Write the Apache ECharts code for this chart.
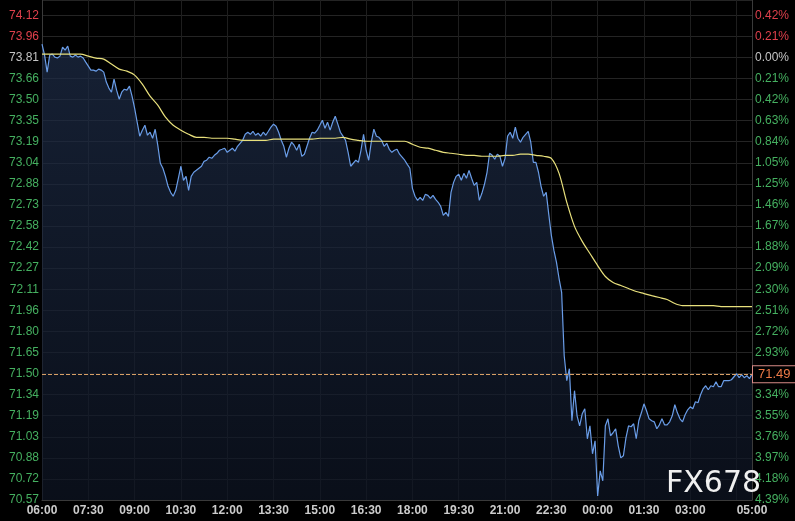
<!DOCTYPE html>
<html>
<head>
<meta charset="utf-8">
<script src="https://cdn.jsdelivr.net/npm/echarts@6/dist/echarts.min.js"></script>
<style>html,body{margin:0;padding:0;background:#000;}#c{width:795px;height:521px;}</style>
</head>
<body>
<div id="c"></div>
<script>
// ---- data ----
const baseClose = 73.81;
const lastPrice = 71.49;
const priceStepMin = 5;   // minutes between price samples (from 06:00)
const avgStepMin = 15;    // minutes between average-line samples
const priceValues = [
73.907,73.827,73.702,73.827,73.834,73.812,73.805,73.819,73.885,73.863,
73.893,73.819,73.812,73.827,73.812,73.819,73.805,73.775,73.746,73.717,
73.717,73.709,73.724,73.717,73.702,73.629,73.585,73.555,73.651,73.570,
73.504,73.555,73.577,73.570,73.599,73.526,73.438,73.335,73.233,73.277,
73.313,73.240,73.262,73.218,73.284,73.167,73.035,72.998,72.939,72.866,
72.822,72.793,72.837,72.925,73.013,72.910,72.939,72.837,72.939,72.969,
72.983,72.998,73.013,73.049,73.057,73.079,73.071,73.093,73.108,73.130,
73.137,73.145,73.115,73.130,73.145,73.123,73.159,73.181,73.203,73.247,
73.262,73.247,73.269,73.240,73.255,73.233,73.262,73.240,73.269,73.299,
73.321,73.306,73.262,73.203,73.159,73.079,73.145,73.189,73.167,73.130,
73.174,73.086,73.101,73.159,73.218,73.262,73.255,73.277,73.313,73.350,
73.291,73.335,73.277,73.335,73.379,73.321,73.262,73.233,73.203,73.115,
73.013,73.035,73.057,73.042,73.130,73.247,73.130,73.057,73.189,73.284,
73.233,73.225,73.203,73.159,73.181,73.137,73.115,73.130,73.137,73.101,
73.079,73.057,73.027,72.998,72.851,72.793,72.763,72.785,72.763,72.807,
72.800,72.778,72.800,72.771,72.749,72.719,72.653,72.675,72.646,72.822,
72.895,72.939,72.954,72.910,72.961,72.925,72.983,72.925,72.873,72.895,
72.763,72.815,72.881,72.969,73.108,73.093,73.064,73.101,73.086,73.013,
73.071,73.233,73.262,73.218,73.299,73.218,73.189,73.225,73.247,73.269,
73.189,73.042,73.042,72.969,72.866,72.793,72.822,72.661,72.507,72.397,
72.309,72.191,72.089,71.626,71.443,71.531,71.150,71.370,71.186,71.113,
71.201,71.238,71.018,71.113,70.908,71.003,70.600,70.783,70.710,71.113,
71.164,71.040,71.062,71.091,70.966,70.878,70.893,71.025,71.113,71.106,
71.128,71.018,71.150,71.208,71.274,71.223,71.164,71.150,71.142,71.091,
71.120,71.164,71.120,71.120,71.142,71.186,71.267,71.208,71.164,71.142,
71.194,71.230,71.252,71.238,71.289,71.282,71.340,71.384,71.406,71.377,
71.406,71.399,71.436,71.399,71.399,71.443,71.443,71.443,71.450,71.472,
71.494,71.465,71.487,71.465,71.480,71.458,71.490
];
const avgValues = [
73.834,73.834,73.834,73.834,73.834,73.834,73.819,73.805,73.797,73.761,
73.724,73.709,73.680,73.614,73.526,73.460,73.372,73.313,73.277,73.247,
73.225,73.225,73.218,73.218,73.218,73.211,73.203,73.203,73.203,73.203,
73.211,73.211,73.211,73.211,73.211,73.211,73.218,73.218,73.218,73.225,
73.211,73.203,73.196,73.196,73.196,73.196,73.196,73.196,73.174,73.152,
73.145,73.130,73.115,73.108,73.101,73.093,73.093,73.086,73.086,73.086,
73.093,73.093,73.101,73.101,73.093,73.086,73.071,72.961,72.749,72.573,
72.463,72.374,72.286,72.206,72.162,72.140,72.118,72.096,72.081,72.066,
72.052,72.037,72.008,71.993,71.993,71.993,71.993,71.993,71.986,71.986,
71.986,71.986,71.986
];
const leftTickLabels = ['70.57','70.72','70.88','71.03','71.19','71.34','71.50','71.65','71.80','71.96','72.11','72.27',
  '72.42','72.58','72.73','72.88','73.04','73.19','73.35','73.50','73.66','73.81','73.96','74.12'];
const rightTickLabels = ['4.39%','4.18%','3.97%','3.76%','3.55%','3.34%','3.14%','2.93%','2.72%','2.51%','2.30%','2.09%',
  '1.88%','1.67%','1.46%','1.25%','1.05%','0.84%','0.63%','0.42%','0.21%','0.00%','0.21%','0.42%'];
const timeLabels = ['06:00','07:30','09:00','10:30','12:00','13:30','15:00','16:30','18:00','19:30','21:00','22:30',
  '00:00','01:30','03:00'];
const endTimeLabel = '05:00';
const sessionMinutes = 1380;
const timeTickMin = 90;
const baseIndex = 21;
const yInterval = 0.1543;
const yMin = 70.5697;
const yMax = 74.23;

// ---- chart ----
const RED = '#e0404c', GRAY = '#c4c4c4', GREEN = '#45b060';
function idxOf(v){ const k = Math.round((v - yMin) / yInterval); return (Math.abs(yMin + k*yInterval - v) < 1e-4) ? k : -1; }
function colorOf(v){ const k = idxOf(v); return k > baseIndex ? RED : (k === baseIndex ? GRAY : GREEN); }

const chart = echarts.init(document.getElementById('c'), null, {renderer:'canvas'});
const yCommon = {
  type:'value', min:yMin, max:yMax, interval:yInterval, scale:true,
  axisTick:{show:false},
  axisLine:{show:true, lineStyle:{color:'#3a3a3a'}}
};
chart.setOption({
  animation:false,
  backgroundColor:'#000',
  grid:{left:42, right:43, top:0, bottom:21, containLabel:false},
  xAxis:{
    type:'value', min:0, max:sessionMinutes, interval:timeTickMin,
    axisLine:{show:true, lineStyle:{color:'#3a3a3a'}},
    axisTick:{show:false},
    splitLine:{show:true, lineStyle:{color:'#1e1e1e'}},
    axisLabel:{
      margin:5, color:'#cccccc', fontSize:12, fontWeight:'bold', fontFamily:'Liberation Sans, Arial',
      showMaxLabel:true, showMinLabel:true,
      formatter:function(v){
        if (Math.abs(v - sessionMinutes) < 1e-6) return endTimeLabel;
        const k = Math.round(v / timeTickMin);
        return timeLabels[k] || '';
      }
    }
  },
  yAxis:[
    Object.assign({}, yCommon, {
      position:'left',
      splitLine:{show:true, lineStyle:{color:'#242424'}},
      axisLabel:{margin:3, fontSize:12, fontFamily:'Liberation Sans, Arial',
        color:function(v){ return colorOf(Number(v)); },
        formatter:function(v){ const k = idxOf(v); return k >= 0 && k < leftTickLabels.length ? leftTickLabels[k] : ''; }}
    }),
    Object.assign({}, yCommon, {
      position:'right',
      splitLine:{show:false},
      axisLabel:{margin:3, fontSize:12, fontFamily:'Liberation Sans, Arial',
        color:function(v){ return colorOf(Number(v)); },
        formatter:function(v){ const k = idxOf(v); return k >= 0 && k < rightTickLabels.length ? rightTickLabels[k] : ''; }}
    })
  ],
  series:[
    {
      type:'line', name:'price', yAxisIndex:0,
      data: priceValues.map((v,i)=>[i*priceStepMin, v]),
      showSymbol:false, symbol:'none',
      lineStyle:{color:'#6a9de8', width:1.2},
      areaStyle:{color:new echarts.graphic.LinearGradient(0,0,0,1,[
        {offset:0, color:'#1f2e4a'},{offset:1, color:'#0e1524'}])},
      z:3,
      markLine:{
        silent:true, symbol:['none','none'],
        lineStyle:{color:'#d9a066', type:'dashed', width:1},
        label:{show:true, position:'end', distance:1, formatter:String(lastPrice.toFixed(2)),
          color:'#ec7a48', fontSize:13, fontFamily:'Liberation Sans, Arial',
          backgroundColor:'#000', borderColor:'#d88a86', borderWidth:1, padding:[2,6,1,5]},
        data:[{yAxis:lastPrice}]
      }
    },
    {
      type:'line', name:'avg', yAxisIndex:0,
      data: avgValues.map((v,j)=>[j*avgStepMin, v]),
      showSymbol:false, symbol:'none', smooth:0.3,
      lineStyle:{color:'#e8e07c', width:1.2},
      z:4
    }
  ],
  graphic:[{
    type:'text', left:666, top:469, z:100,
    style:{text:'FX678', fill:'#f0f0f0', font:'30px "DejaVu Sans"'}
  }]
});
</script>
</body>
</html>
